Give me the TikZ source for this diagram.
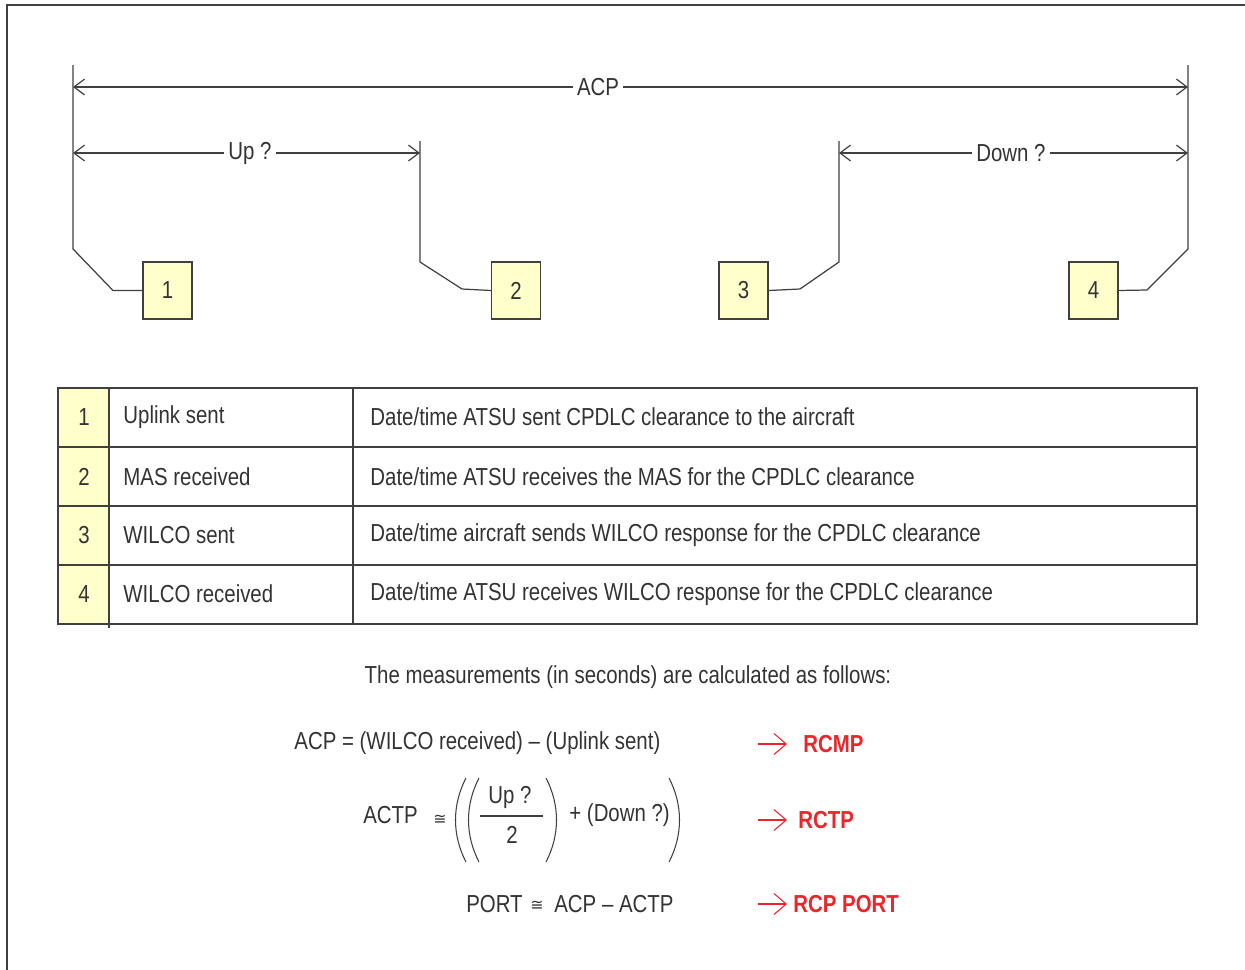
\documentclass[tikz,border=0pt]{standalone}
\usepackage{fontspec}
\setmainfont{Liberation Sans}[FakeStretch=0.83]
\newfontfamily\symfont{DejaVu Sans}
\usetikzlibrary{arrows.meta}
\definecolor{linegray}{HTML}{404040}
\definecolor{textgray}{HTML}{333333}
\definecolor{boxyellow}{HTML}{FFFFCC}
\definecolor{rcpred}{HTML}{E8262C}
\newcommand{\diafont}{\fontsize{14pt}{17pt}\selectfont}
\tikzset{
  markbox/.style={draw=linegray, fill=boxyellow, minimum width=0.98cm, minimum height=1.14cm, inner sep=0pt},
  dimlabel/.style={fill=white, inner sep=2pt},
  dimarrow/.style={-{Straight Barb[length=6pt,width=9pt]}},
  redarrow/.style={rcpred, line width=0.6pt, -{Straight Barb[length=7pt,width=12pt]}},
  rcplabel/.style={rcpred, anchor=west, font=\diafont\bfseries},
  eqpart/.style={anchor=west, inner sep=1pt},
  congsign/.style={inner sep=0pt, font=\symfont\fontsize{9pt}{10pt}\selectfont},
  paren/.style={line width=0.6pt}
}
\begin{document}
\begin{tikzpicture}[x=0.02cm, y=-0.02cm, line width=0.7pt, color=linegray, text=textgray, font=\diafont]
  \useasboundingbox (0,0) rectangle (1245,970);
  % frame
  \draw[line width=1pt] (7,975) -- (7,5) -- (1250,5);

  % event boxes
  \node[markbox] (m1) at (167.5,290.5) {1};
  \node[markbox] (m2) at (516,290.5) {2};
  \node[markbox] (m3) at (743.5,290.5) {3};
  \node[markbox] (m4) at (1093.5,290.5) {4};

  % posts
  \draw (m1.west) -- (113,290.5) -- (73,249) -- (73,65);
  \draw (m2.west) -- (462,289) -- (420,262) -- (420,141);
  \draw (m3.east) -- (800,289) -- (839,262) -- (839,141);
  \draw (m4.east) -- (1147,290) -- (1188,249) -- (1188,65);

  % durations
  \node[dimlabel] (acp) at (598,87) {ACP};
  \draw[dimarrow] (acp.west) -- (73,87);
  \draw[dimarrow] (acp.east) -- (1188,87);
  \node[dimlabel] (up) at (250,153) {Up ?};
  \draw[dimarrow] (up.west) -- (73,153);
  \draw[dimarrow] (up.east) -- (420,153);
  \node[dimlabel] (down) at (1011,153) {Down ?};
  \draw[dimarrow] (down.west) -- (839,153);
  \draw[dimarrow] (down.east) -- (1188,153);

  % table
  \draw[fill=boxyellow] (58,388) rectangle (109,624);
  \draw (58,388) rectangle (1197,624);
  \foreach \y in {447,506,565}
    \draw (58,\y) -- (1197,\y);
  \draw (109,388) -- (109,628);
  \draw (353,388) -- (353,624);
  \foreach \n/\y/\ev/\desc in {
      1/417/{Uplink sent}/{Date/time ATSU sent CPDLC clearance to the aircraft},
      2/477/{MAS received}/{Date/time ATSU receives the MAS for the CPDLC clearance},
      3/535/{WILCO sent}/{Date/time aircraft sends WILCO response for the CPDLC clearance},
      4/594/{WILCO received}/{Date/time ATSU receives WILCO response for the CPDLC clearance}}{
    \node (num\n) at (84,\y) {\n};
    \node[anchor=west] (ev\n) at (117,\y) {\ev};
    \node[anchor=west] (desc\n) at (364,\y) {\desc};
  }

  % formulas
  \node (intro) at (628,677) {The measurements (in seconds) are calculated as follows:};

  \node[anchor=west] (acpeq) at (288,743) {ACP = (WILCO received) -- (Uplink sent)};
  \draw[redarrow] (758,744) -- (787,744);
  \node[rcplabel] (rcmp) at (797,744) {RCMP};

  \node[eqpart] (actp) at (361,815) {ACTP};
  \node[congsign] (cong1) at (440,820) {≅};
  \draw[paren] (466,778) .. controls (452,805) and (452,835) .. (466,862);
  \draw[paren] (479,778) .. controls (465,805) and (465,835) .. (479,862);
  \node (fracup) at (510,797) {Up ?};
  \node (fractwo) at (512,835) {2};
  \draw (480,816) -- (543,816);
  \draw[paren] (546,778) .. controls (560,805) and (560,835) .. (546,862);
  \node[eqpart] (downeq) at (567,815) {+ (Down ?)};
  \draw[paren] (669,778) .. controls (683,805) and (683,835) .. (669,862);
  \draw[redarrow] (758,820) -- (787,820);
  \node[rcplabel] (rctp) at (792,820) {RCTP};

  \node[eqpart] (port) at (464,904) {PORT};
  \node[congsign] (cong2) at (537,906) {≅};
  \node[eqpart] (porteq) at (552,904) {ACP -- ACTP};
  \draw[redarrow] (758,904) -- (787,904);
  \node[rcplabel] (rcpport) at (787,904) {RCP PORT};
\end{tikzpicture}
\end{document}
